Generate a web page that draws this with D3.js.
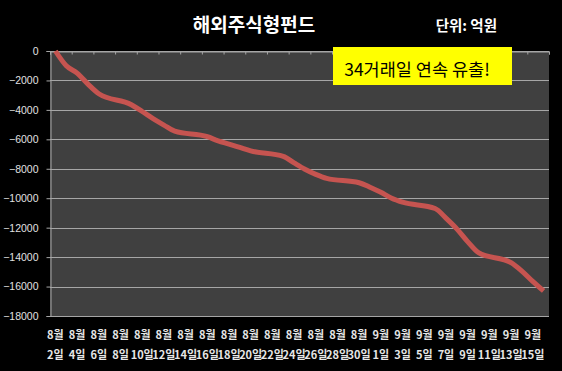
<!DOCTYPE html>
<html>
<head>
<meta charset="utf-8">
<script src="https://cdn.jsdelivr.net/npm/d3@7"></script>
<style>
  body { margin: 0; background: #000; }
  svg { display: block; font-family: "Noto Sans CJK KR", "Noto Sans", sans-serif; }
</style>
</head>
<body>
<div id="chart"></div>
<script>
// 2010 trading days (weekdays) and cumulative net outflow, unit: 억원
const tradeDates = [
    "2010-08-02", "2010-08-03", "2010-08-04", "2010-08-05", "2010-08-06",
    "2010-08-09", "2010-08-10", "2010-08-11", "2010-08-12", "2010-08-13",
    "2010-08-16", "2010-08-17", "2010-08-18", "2010-08-19", "2010-08-20",
    "2010-08-23", "2010-08-24", "2010-08-25", "2010-08-26", "2010-08-27",
    "2010-08-30", "2010-08-31", "2010-09-01", "2010-09-02", "2010-09-03",
    "2010-09-06", "2010-09-07", "2010-09-08", "2010-09-09", "2010-09-10",
    "2010-09-13", "2010-09-14", "2010-09-15", "2010-09-16"
];
const flows = [
    0, -1000, -1500, -2250, -2900,
    -3650, -4110, -4590, -5030, -5450,
    -5820, -6100, -6320, -6550, -6780,
    -7150, -7600, -8030, -8380, -8650,
    -8950, -9250, -9600, -10000, -10270,
    -10700, -11350, -12080, -12950, -13700,
    -14380, -14950, -15650, -16300
];
const yTicks = [0, -2000, -4000, -6000, -8000, -10000, -12000, -14000, -16000, -18000];
const labelDates = [
    "2010-08-02", "2010-08-04", "2010-08-06", "2010-08-08", "2010-08-10", "2010-08-12",
    "2010-08-14", "2010-08-16", "2010-08-18", "2010-08-20", "2010-08-22", "2010-08-24",
    "2010-08-26", "2010-08-28", "2010-08-30", "2010-09-01", "2010-09-03", "2010-09-05",
    "2010-09-07", "2010-09-09", "2010-09-11", "2010-09-13", "2010-09-15"
];
const titleText = "해외주식형펀드";
const unitText = "단위: 억원";
const noteText = "34거래일 연속 유출!";

const width = 562;
const height = 371;
const plot = {left: 50, right: 549, top: 51, bottom: 316};

const parse = s => { const p = s.split("-").map(Number); return new Date(p[0], p[1] - 1, p[2]); };
const data = tradeDates.map((d, i) => ({date: parse(d), value: flows[i]}));

const svg = d3.select("#chart").append("svg")
    .attr("width", width)
    .attr("height", height);

svg.append("rect")
    .attr("width", width)
    .attr("height", height)
    .attr("fill", "#000");

// half-day padding on each side so dates sit in the middle of their slot
const first = parse(labelDates[0]);
const last = parse(tradeDates[tradeDates.length - 1]);
const x = d3.scaleTime()
    .domain([d3.timeHour.offset(first, -12), d3.timeHour.offset(last, 12)])
    .range([plot.left, plot.right]);

const y = d3.scaleLinear()
    .domain([0, -18000])
    .range([plot.top, plot.bottom]);

svg.append("rect")
    .attr("x", plot.left)
    .attr("y", plot.top)
    .attr("width", plot.right - plot.left)
    .attr("height", plot.bottom - plot.top)
    .attr("fill", "#404040");

// gridlines
svg.append("g")
    .selectAll("line")
    .data(yTicks)
    .join("line")
    .attr("x1", plot.left)
    .attr("x2", plot.right)
    .attr("y1", d => Math.round(y(d)) + 0.5)
    .attr("y2", d => Math.round(y(d)) + 0.5)
    .attr("stroke", "#a6a6a6")
    .attr("stroke-width", 1);

// y axis
const yAxis = svg.append("g")
    .attr("transform", `translate(${plot.left + 0.5},0)`)
    .call(d3.axisLeft(y).tickValues(yTicks).tickSize(4).tickPadding(8).tickFormat(d3.format("d")));
yAxis.select(".domain").attr("stroke", "#a6a6a6");
yAxis.selectAll(".tick line").attr("stroke", "#a6a6a6");
yAxis.selectAll("text")
    .attr("fill", "#e0e0e0")
    .attr("font-size", 10.5)
    .attr("font-family", "Liberation Sans, Arial, sans-serif");

// category boundaries on the top axis (every 2 days)
const boundaries = d3.range(0, 24).map(i => d3.timeHour.offset(first, -12 + 48 * i));
const topAxis = svg.append("g")
    .attr("transform", `translate(0,${plot.top + 0.5})`)
    .call(d3.axisBottom(x).tickValues(boundaries).tickSize(3).tickFormat(""));
topAxis.select(".domain").attr("stroke", "#a6a6a6");
topAxis.selectAll(".tick line").attr("stroke", "#a6a6a6");

// x labels, two lines, at the bottom
const labels = svg.append("g")
    .selectAll("text")
    .data(labelDates.map(parse))
    .join("text")
    .attr("x", d => x(d))
    .attr("text-anchor", "middle")
    .attr("fill", "#e6e6e6")
    .attr("font-size", 11)
    .attr("font-weight", "bold");
labels.append("tspan")
    .attr("x", d => x(d))
    .attr("y", 339)
    .text(d => (d.getMonth() + 1) + "월");
labels.append("tspan")
    .attr("x", d => x(d))
    .attr("y", 359)
    .text(d => d.getDate() + "일");

// the flow line
const line = d3.line()
    .x(d => x(d.date))
    .y(d => y(d.value))
    .curve(d3.curveMonotoneX);

svg.append("path")
    .datum(data)
    .attr("d", line)
    .attr("fill", "none")
    .attr("stroke", "#c65450")
    .attr("stroke-width", 5)
    .attr("stroke-linejoin", "round")
    .attr("stroke-linecap", "butt");

// titles
svg.append("text")
    .attr("x", 254)
    .attr("y", 32)
    .attr("text-anchor", "middle")
    .attr("fill", "#fff")
    .attr("font-size", 19)
    .attr("font-weight", "bold")
    .text(titleText);

svg.append("text")
    .attr("x", 497)
    .attr("y", 31)
    .attr("text-anchor", "end")
    .attr("fill", "#fff")
    .attr("font-size", 14.5)
    .attr("font-weight", "bold")
    .text(unitText);

// callout box
svg.append("rect")
    .attr("x", 333)
    .attr("y", 47)
    .attr("width", 179)
    .attr("height", 38)
    .attr("fill", "#ffff00");

svg.append("text")
    .attr("x", 417)
    .attr("y", 76)
    .attr("text-anchor", "middle")
    .attr("fill", "#000")
    .attr("font-size", 17.5)
    .text(noteText);
</script>
</body>
</html>
